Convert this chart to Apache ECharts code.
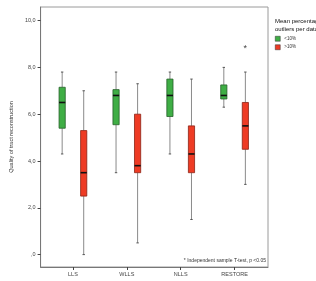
<!DOCTYPE html>
<html lang="en">
<head>
  <meta charset="UTF-8">
  <title>tract quality boxplot</title>
  <style>
    html, body { margin: 0; padding: 0; background: #fff; }
    #chart { width: 316px; height: 281px; }
  </style>
</head>
<body>
<div id="chart"></div>
<script src="https://cdn.jsdelivr.net/npm/echarts@6/dist/echarts.min.js"></script>
<script>
  // data: [min, q1, median, q3, max]
  const categories = ['LLS', 'WLLS', 'NLLS', 'RESTORE'];
  const lowOutliers = [
    [4.3, 5.4, 6.5, 7.15, 7.8],
    [3.5, 5.55, 6.8, 7.05, 7.8],
    [4.3, 5.9, 6.8, 7.5, 7.8],
    [6.3, 6.65, 6.8, 7.25, 8.0]
  ];
  const highOutliers = [
    [0.0, 2.5, 3.5, 5.3, 7.0],
    [0.5, 3.5, 3.8, 6.0, 7.3],
    [1.5, 3.5, 4.3, 5.5, 7.5],
    [3.0, 4.5, 5.5, 6.5, 7.8]
  ];
  // extreme values: [category index, value]
  const extremes = [[3, 8.8]];
  const yTicks = [0, 2, 4, 6, 8, 10];
  const xTicks = [0, 1, 2, 3];

  const GREEN = '#3fae45';
  const RED = '#ee3b24';
  const boxW = 0.115;

  function renderBox(offset, stroke) {
    return function (params, api) {
      const x = api.value(0) + offset;
      const lo = api.coord([x, api.value(1)]);
      const q1 = api.coord([x, api.value(2)]);
      const md = api.coord([x, api.value(3)]);
      const q3 = api.coord([x, api.value(4)]);
      const hi = api.coord([x, api.value(5)]);
      const w = api.size([boxW, 0])[0];
      const cap = 1.2;
      const whisk = { stroke: '#8a8a8a', lineWidth: 1 };
      const capStyle = { stroke: '#555', lineWidth: 1 };
      return {
        type: 'group',
        children: [
          { type: 'line', shape: { x1: lo[0], y1: lo[1], x2: q1[0], y2: q1[1] }, style: whisk },
          { type: 'line', shape: { x1: hi[0], y1: hi[1], x2: q3[0], y2: q3[1] }, style: whisk },
          { type: 'line', shape: { x1: lo[0] - cap, y1: lo[1], x2: lo[0] + cap, y2: lo[1] }, style: capStyle },
          { type: 'line', shape: { x1: hi[0] - cap, y1: hi[1], x2: hi[0] + cap, y2: hi[1] }, style: capStyle },
          {
            type: 'rect',
            shape: { x: q3[0] - w / 2, y: q3[1], width: w, height: q1[1] - q3[1] },
            style: { fill: api.visual('color'), stroke: stroke, lineWidth: 0.8 }
          },
          { type: 'line', shape: { x1: md[0] - w / 2, y1: md[1], x2: md[0] + w / 2, y2: md[1] }, style: { stroke: '#111', lineWidth: 1.6 } }
        ]
      };
    };
  }

  const chart = echarts.init(document.getElementById('chart'), null, { renderer: 'canvas' });

  const txt = '#444';
  const font = 'Liberation Sans';

  chart.setOption({
    animation: false,
    textStyle: { fontFamily: font },
    title: [{
      text: 'Mean percentage of\noutliers per dataset',
      left: 270, top: 12,
      textStyle: { fontSize: 6, fontWeight: 'normal', color: '#111', lineHeight: 8, fontFamily: font }
    }],
    graphic: [{
      type: 'text',
      right: 50, top: 258,
      style: { text: '* Independent sample T-test, p <0.05', fontSize: 5, fill: '#333', fontFamily: font }
    }],
    legend: {
      data: ['<10%', '>10%'],
      orient: 'vertical',
      left: 270, top: 31,
      itemWidth: 5, itemHeight: 5, itemGap: 3,
      icon: 'rect',
      itemStyle: { borderColor: '#333', borderWidth: 0.5 },
      textStyle: { fontSize: 4.5, color: '#333', padding: [0, 0, 0, -1] }
    },
    grid: {
      left: 30, top: 7, right: 48, bottom: 14,
      show: true, borderColor: '#9a9a9a', borderWidth: 1
    },
    xAxis: {
      type: 'value',
      min: -0.6, max: 3.62,
      splitLine: { show: false },
      axisLine: { onZero: false, lineStyle: { color: '#777' } },
      axisTick: { customValues: xTicks, length: 3, lineStyle: { color: '#444' } },
      axisLabel: {
        customValues: xTicks, fontSize: 5.5, color: txt, margin: 4,
        formatter: v => categories[Math.round(v)] || ''
      }
    },
    yAxis: {
      type: 'value',
      min: -0.53, max: 10.58,
      name: 'Quality of tract reconstruction',
      nameLocation: 'middle',
      nameGap: 24,
      nameTextStyle: { fontSize: 5.5, color: '#333', fontFamily: font },
      splitLine: { show: false },
      axisLine: { show: true, onZero: false, lineStyle: { color: '#777' } },
      axisTick: { show: true, customValues: yTicks, length: 3, lineStyle: { color: '#444' } },
      axisLabel: {
        customValues: yTicks, fontSize: 5.5, color: txt, margin: 5,
        formatter: v => (v === 0 ? ',0' : v.toFixed(1).replace('.', ','))
      }
    },
    series: [
      {
        name: '<10%',
        type: 'custom',
        itemStyle: { color: GREEN },
        renderItem: renderBox(-0.2, '#245f28'),
        encode: { x: 0, y: [1, 2, 3, 4, 5] },
        data: lowOutliers.map((d, i) => [i].concat(d))
      },
      {
        name: '>10%',
        type: 'custom',
        itemStyle: { color: RED },
        renderItem: renderBox(0.2, '#8a2214'),
        encode: { x: 0, y: [1, 2, 3, 4, 5] },
        data: highOutliers.map((d, i) => [i].concat(d))
      },
      {
        name: 'extreme',
        type: 'custom',
        renderItem: function (params, api) {
          const p = api.coord([api.value(0) + 0.2, api.value(1)]);
          return {
            type: 'text',
            x: p[0], y: p[1],
            style: { text: '*', fontSize: 9, fill: '#444', align: 'center', verticalAlign: 'middle', fontFamily: font }
          };
        },
        encode: { x: 0, y: 1 },
        data: extremes
      }
    ]
  });
</script>
</body>
</html>
